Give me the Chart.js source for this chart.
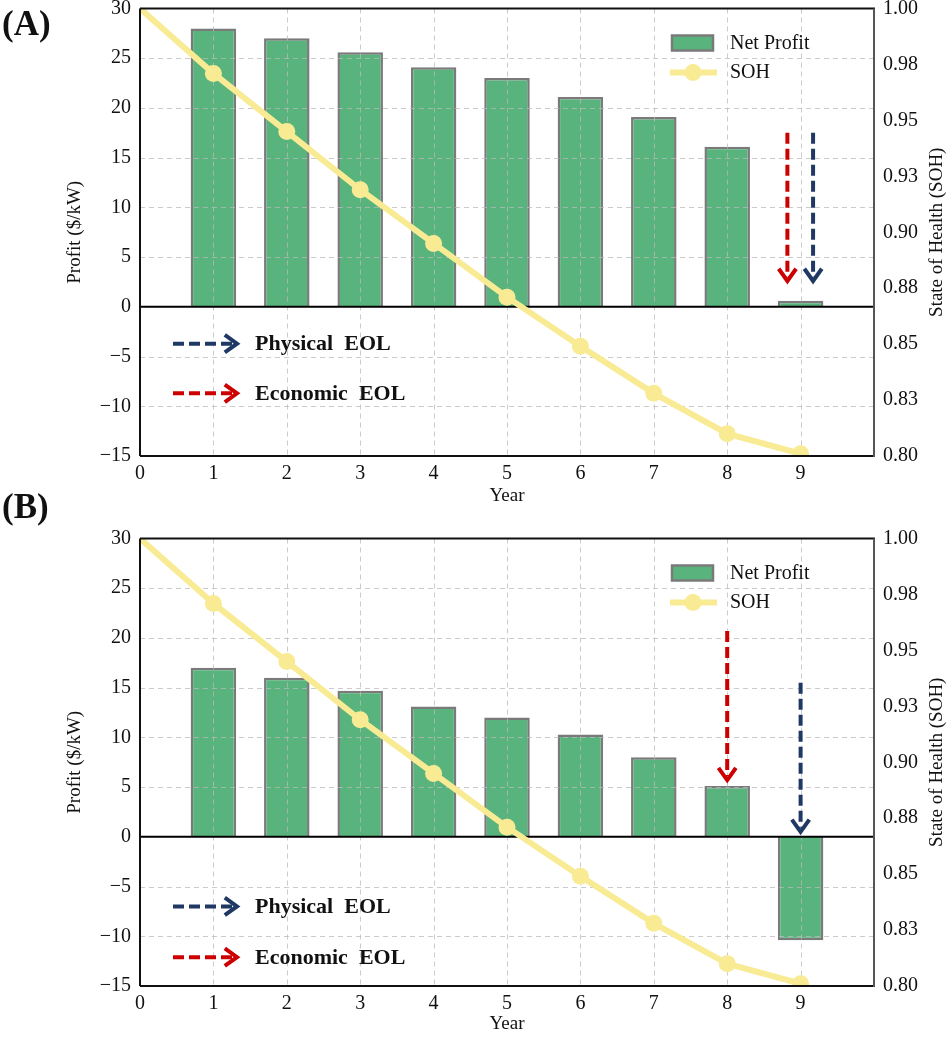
<!DOCTYPE html>
<html>
<head>
<meta charset="utf-8">
<script src="https://cdn.jsdelivr.net/npm/chart.js@4.4.1/dist/chart.umd.min.js"></script>
<style>
  html, body { margin: 0; padding: 0; background: #fff; }
  body { width: 948px; height: 1038px; position: relative; overflow: hidden; }
  .panel { position: absolute; left: 0; width: 948px; }
  .tag { position: absolute; left: 2px; z-index: 2; line-height: 34px;
         font: bold 35px 'Liberation Serif', 'Times New Roman', serif; color: #111; }
</style>
</head>
<body>
<div class="panel" style="top:0;height:510px"><canvas id="chartA"></canvas></div>
<div class="panel" style="top:530px;height:508px"><canvas id="chartB"></canvas></div>
<div class="tag" style="top:4px">(A)</div>
<div class="tag" style="top:487px">(B)</div>
<script>
// values
const years = [0, 1, 2, 3, 4, 5, 6, 7, 8, 9];
const barYears = [1, 2, 3, 4, 5, 6, 7, 8, 9];
const profitA = [28.0, 27.0, 25.6, 24.1, 23.0, 21.1, 19.1, 16.1, 0.6];
const profitB = [17.0, 16.0, 14.7, 13.1, 12.0, 10.3, 8.0, 5.1, -10.4];
const soh = [1.000, 0.971, 0.945, 0.919, 0.895, 0.871, 0.849, 0.828, 0.810, 0.801];
const sohTickLabels = ['0.80', '0.83', '0.85', '0.88', '0.90', '0.93', '0.95', '0.98', '1.00'];

// EOL arrows: [year, start profit, tip profit]
const econArrowA = [8.82, 17.5, 2.6];
const physArrowA = [9.17, 17.5, 2.6];
const econArrowB = [8.0, 20.7, 5.7];
const physArrowB = [9.0, 15.5, 0.5];
// profit level of the "Physical EOL" / "Economic EOL" key rows
const eolKeyA = [-3.7, -8.7];
const eolKeyB = [-7.0, -12.1];

const GREEN = '#58b47c';
const BAR_EDGE = '#7a7a7a';
const YELLOW = '#f8eb94';
const RED = '#cc0000';
const NAVY = '#1f3864';
const SERIF = "'Liberation Serif', 'Times New Roman', serif";

Chart.defaults.font.family = SERIF;
Chart.defaults.color = '#111';

function line(ctx, x1, y1, x2, y2) {
  ctx.beginPath();
  ctx.moveTo(x1, y1);
  ctx.lineTo(x2, y2);
  ctx.stroke();
}

function dashedArrow(ctx, x1, y1, x2, y2, color) {
  const ang = Math.atan2(y2 - y1, x2 - x1);
  ctx.save();
  ctx.strokeStyle = color;
  ctx.lineWidth = 4;
  ctx.setLineDash([11, 5]);
  line(ctx, x1, y1, x2 - 4 * Math.cos(ang), y2 - 4 * Math.sin(ang));
  ctx.setLineDash([]);
  const head = 15, spread = 0.62;
  ctx.beginPath();
  ctx.moveTo(x2 - head * Math.cos(ang - spread), y2 - head * Math.sin(ang - spread));
  ctx.lineTo(x2, y2);
  ctx.lineTo(x2 - head * Math.cos(ang + spread), y2 - head * Math.sin(ang + spread));
  ctx.stroke();
  ctx.restore();
}

const panelDecor = {
  id: 'panelDecor',
  // grid goes over the bars but under the SOH line
  afterDatasetDraw(chart, args) {
    if (args.index !== 0) return;
    const { ctx, chartArea: a, scales: { x, y } } = chart;
    ctx.save();
    ctx.strokeStyle = 'rgba(185,185,185,0.75)';
    ctx.lineWidth = 1;
    ctx.setLineDash([5, 4]);
    x.ticks.forEach(t => {
      if (t.value <= x.min || t.value >= x.max) return;
      const p = Math.round(x.getPixelForValue(t.value)) + 0.5;
      line(ctx, p, a.top, p, a.bottom);
    });
    y.ticks.forEach(t => {
      if (t.value <= y.min || t.value >= y.max || t.value === 0) return;
      const p = Math.round(y.getPixelForValue(t.value)) + 0.5;
      line(ctx, a.left, p, a.right, p);
    });
    ctx.setLineDash([]);
    ctx.strokeStyle = '#000';
    ctx.lineWidth = 2;
    const z = y.getPixelForValue(0);
    line(ctx, a.left, z, a.right, z);
    ctx.restore();
  },
  afterDraw(chart, args, opts) {
    const { ctx, chartArea: a, scales: { x, y } } = chart;
    ctx.save();
    // frame
    ctx.lineWidth = 2;
    ctx.strokeStyle = '#111';
    line(ctx, a.left, a.top, a.right + 1, a.top);
    line(ctx, a.left, a.top, a.left, a.bottom);
    line(ctx, a.left, a.bottom, a.right, a.bottom);
    ctx.strokeStyle = '#555';
    line(ctx, a.right, a.top, a.right, a.bottom + 1);

    // EOL arrows
    const arrow = (d, c) => {
      const px = x.getPixelForValue(d[0]);
      dashedArrow(ctx, px, y.getPixelForValue(d[1]), px, y.getPixelForValue(d[2]), c);
    };
    arrow(opts.econ, RED);
    arrow(opts.phys, NAVY);

    // key for the arrows
    ctx.font = 'bold 22px ' + SERIF;
    ctx.fillStyle = '#111';
    ctx.textBaseline = 'middle';
    ctx.textAlign = 'left';
    [[opts.key[0], NAVY, 'Physical  EOL'], [opts.key[1], RED, 'Economic  EOL']].forEach(([v, c, label]) => {
      const py = y.getPixelForValue(v);
      dashedArrow(ctx, a.left + 33, py, a.left + 97, py, c);
      ctx.fillText(label, a.left + 115, py + 1);
    });

    // series legend, top right
    ctx.font = '20px ' + SERIF;
    ctx.fillStyle = GREEN;
    ctx.strokeStyle = BAR_EDGE;
    ctx.lineWidth = 2.5;
    ctx.fillRect(a.left + 532, a.top + 27, 41, 15);
    ctx.strokeRect(a.left + 532, a.top + 27, 41, 15);
    ctx.fillStyle = '#111';
    ctx.fillText('Net Profit', a.left + 590, a.top + 35);
    ctx.strokeStyle = YELLOW;
    ctx.lineWidth = 6;
    line(ctx, a.left + 530, a.top + 64, a.left + 577, a.top + 64);
    ctx.fillStyle = YELLOW;
    ctx.beginPath();
    ctx.arc(a.left + 553, a.top + 64, 8.5, 0, Math.PI * 2);
    ctx.fill();
    ctx.fillStyle = '#111';
    ctx.fillText('SOH', a.left + 590, a.top + 64);

    // axis titles, both read bottom to top
    ctx.font = '19px ' + SERIF;
    ctx.textAlign = 'center';
    const mid = (a.top + a.bottom) / 2;
    [[75, 'Profit ($/kW)'], [937, 'State of Health (SOH)']].forEach(([tx, text]) => {
      ctx.save();
      ctx.translate(tx, mid);
      ctx.rotate(-Math.PI / 2);
      ctx.fillText(text, 0, 0);
      ctx.restore();
    });
    ctx.restore();
  }
};

function makePanel(id, profit, econ, phys, key, xHeight) {
  return new Chart(document.getElementById(id), {
    type: 'bar',
    data: {
      datasets: [
        {
          label: 'Net Profit',
          data: barYears.map((yr, i) => ({ x: yr, y: profit[i] })),
          backgroundColor: GREEN,
          borderColor: BAR_EDGE,
          borderWidth: 2.5,
          borderSkipped: 'start',
          categoryPercentage: 0.62,
          barPercentage: 1.0,
          yAxisID: 'y',
          order: 1
        },
        {
          type: 'line',
          label: 'SOH',
          data: years.map((yr, i) => ({ x: yr, y: soh[i] })),
          borderColor: YELLOW,
          backgroundColor: YELLOW,
          borderWidth: 6,
          pointRadius: c => (c.dataIndex === 0 ? 0 : 8.5),
          pointBorderWidth: 0,
          tension: 0,
          clip: 0,
          yAxisID: 'y1',
          order: 0
        }
      ]
    },
    options: {
      responsive: true,
      maintainAspectRatio: false,
      animation: false,
      events: [],
      layout: { padding: { top: 8, left: 0, right: 0, bottom: 0 } },
      scales: {
        x: {
          type: 'linear',
          min: 0,
          max: 10,
          offset: false,
          grid: { display: false, drawTicks: false, offset: false },
          border: { display: false },
          ticks: {
            stepSize: 1,
            padding: 6,
            font: { size: 20 },
            callback: v => (v === 10 ? '' : v)
          },
          title: { display: true, text: 'Year', font: { size: 19 }, padding: { top: 0, bottom: 3 } },
          afterFit: s => { s.height = xHeight; }
        },
        y: {
          position: 'left',
          min: -15,
          max: 30,
          grid: { display: false, drawTicks: false },
          border: { display: false },
          ticks: {
            stepSize: 5,
            padding: 9,
            font: { size: 20 },
            callback: v => (v < 0 ? '\u2212' + Math.abs(v) : String(v))
          },
          afterFit: s => { s.width = 140; s.paddingTop = 0; s.paddingBottom = 0; }
        },
        y1: {
          position: 'right',
          min: 0.8,
          max: 1.0,
          grid: { display: false, drawTicks: false },
          border: { display: false },
          ticks: {
            stepSize: 0.025,
            padding: 9,
            font: { size: 20 },
            callback: v => sohTickLabels[Math.round((v - 0.8) / 0.025)]
          },
          afterFit: s => { s.width = 74; s.paddingTop = 0; s.paddingBottom = 0; }
        }
      },
      plugins: {
        legend: { display: false },
        tooltip: { enabled: false },
        panelDecor: { econ, phys, key }
      }
    },
    plugins: [panelDecor]
  });
}

makePanel('chartA', profitA, econArrowA, physArrowA, eolKeyA, 54);
makePanel('chartB', profitB, econArrowB, physArrowB, eolKeyB, 52);
</script>
</body>
</html>
